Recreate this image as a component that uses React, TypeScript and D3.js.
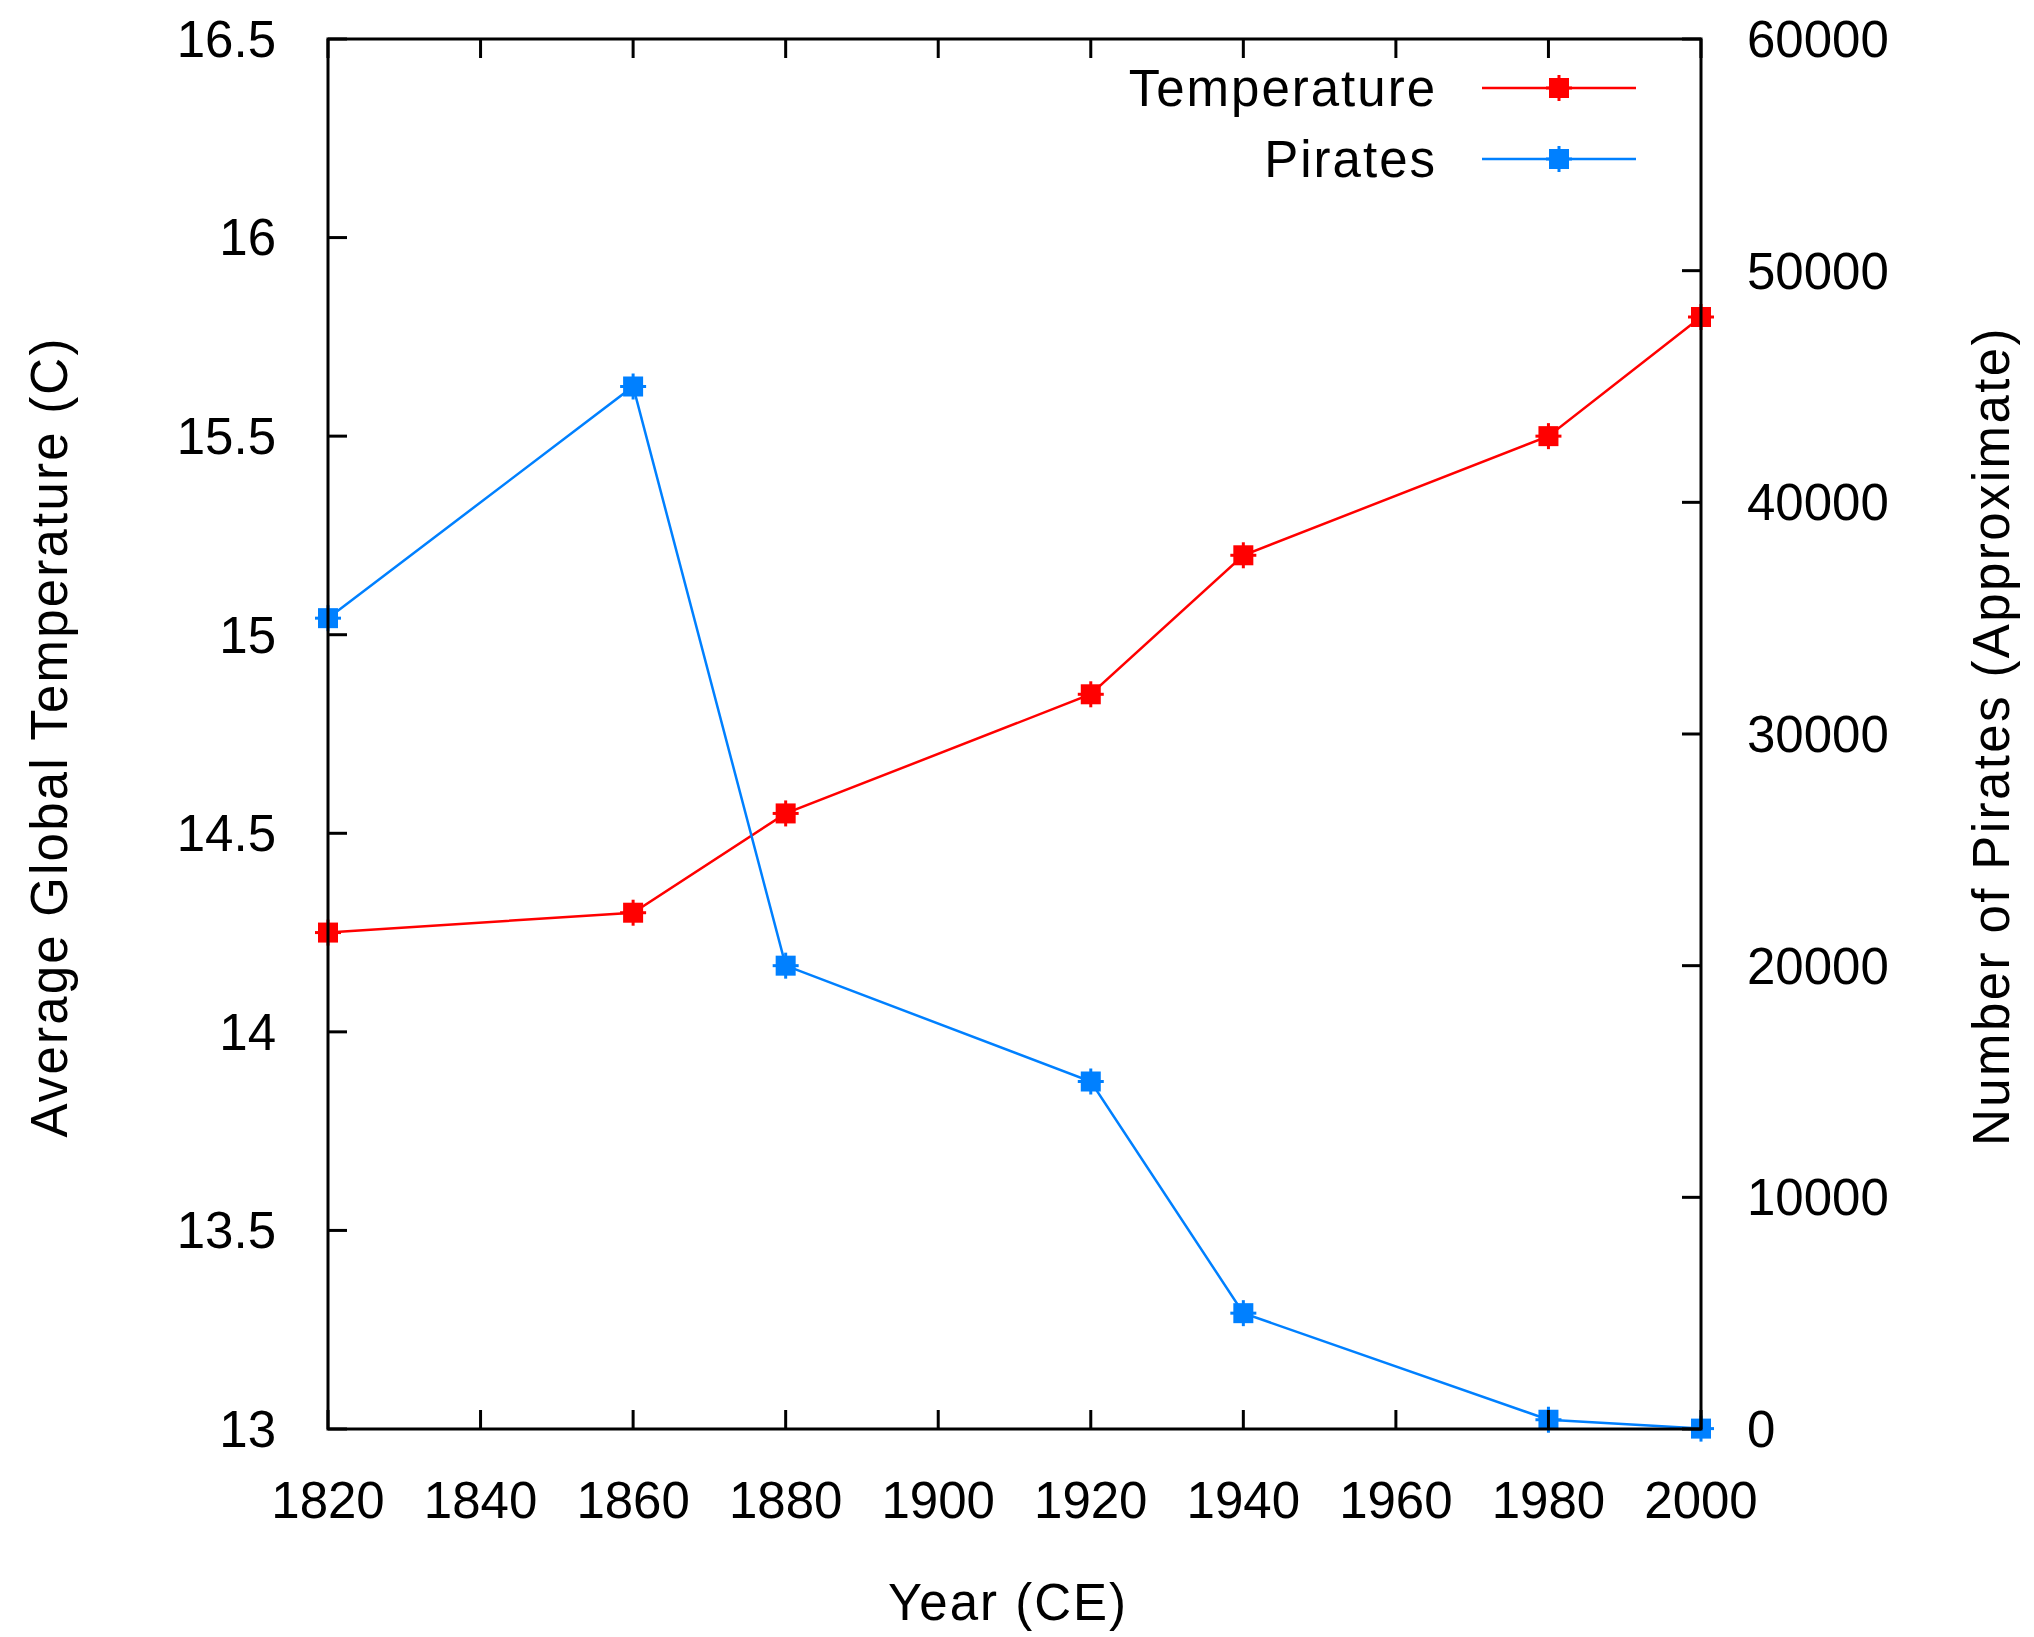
import * as d3 from 'd3';
import React, { useEffect } from 'react';

const years = [1820, 1860, 1880, 1920, 1940, 1980, 2000];
const temperature = [14.25, 14.3, 14.55, 14.85, 15.2, 15.5, 15.8];
const pirates = [35000, 45000, 20000, 15000, 5000, 400, 17];

const xTicks = [1820, 1840, 1860, 1880, 1900, 1920, 1940, 1960, 1980, 2000];
const yTicks = [13, 13.5, 14, 14.5, 15, 15.5, 16, 16.5];
const y2Ticks = [0, 10000, 20000, 30000, 40000, 50000, 60000];

const WIDTH = 2034;
const HEIGHT = 1637;
const FONT = '"Liberation Sans", Arial, Helvetica, sans-serif';
const RED = '#ff0000';
const BLUE = '#0080ff';

const margin = { left: 328, right: 333, top: 39, bottom: 208 };

const Marker: React.FC<{ x: number; y: number; color: string }> = ({ x, y, color }) => (
  <g>
    <rect x={x - 10} y={y - 10} width={20} height={20} fill={color} />
    <line x1={x - 13} x2={x + 13} y1={y} y2={y} stroke={color} strokeWidth={3} />
    <line x1={x} x2={x} y1={y - 13} y2={y + 13} stroke={color} strokeWidth={3} />
  </g>
);

const App: React.FC = () => {
  useEffect(() => {
    document.body.style.margin = '0';
  }, []);

  const x0 = margin.left;
  const x1 = WIDTH - margin.right;
  const y0 = margin.top;
  const y1 = HEIGHT - margin.bottom;

  const xScale = d3.scaleLinear().domain([1820, 2000]).range([x0, x1]);
  const yScale = d3.scaleLinear().domain([13, 16.5]).range([y1, y0]);
  const y2Scale = d3.scaleLinear().domain([0, 60000]).range([y1, y0]);

  const tempLine = d3.line<number>()
    .x((_, i) => xScale(years[i]))
    .y(d => yScale(d));
  const pirateLine = d3.line<number>()
    .x((_, i) => xScale(years[i]))
    .y(d => y2Scale(d));

  const tickLen = 19;
  const legendRows = [
    { label: 'Temperature', color: RED, y: 88 },
    { label: 'Pirates', color: BLUE, y: 159 },
  ];

  return (
    <svg width={WIDTH} height={HEIGHT} style={{ display: 'block', background: '#fff' }} fontFamily={FONT}>
      {/* data */}
      <path d={tempLine(temperature) || ''} fill="none" stroke={RED} strokeWidth={2.5} />
      <path d={pirateLine(pirates) || ''} fill="none" stroke={BLUE} strokeWidth={2.5} />
      {temperature.map((t, i) => (
        <Marker key={'t' + i} x={xScale(years[i])} y={yScale(t)} color={RED} />
      ))}
      {pirates.map((p, i) => (
        <Marker key={'p' + i} x={xScale(years[i])} y={y2Scale(p)} color={BLUE} />
      ))}

      {/* ticks */}
      {xTicks.map(t => (
        <g key={'xt' + t}>
          <line x1={xScale(t)} x2={xScale(t)} y1={y1} y2={y1 - tickLen} stroke="#000" strokeWidth={3} />
          <line x1={xScale(t)} x2={xScale(t)} y1={y0} y2={y0 + tickLen} stroke="#000" strokeWidth={3} />
          <text x={xScale(t)} y={1518} textAnchor="middle" fontSize={51} fill="#000">{t}</text>
        </g>
      ))}
      {yTicks.map(t => (
        <g key={'yt' + t}>
          <line x1={x0} x2={x0 + tickLen} y1={yScale(t)} y2={yScale(t)} stroke="#000" strokeWidth={3} />
          <text x={276} y={yScale(t)} dy="0.35em" textAnchor="end" fontSize={51} fill="#000">{t}</text>
        </g>
      ))}
      {y2Ticks.map(t => (
        <g key={'y2t' + t}>
          <line x1={x1} x2={x1 - tickLen} y1={y2Scale(t)} y2={y2Scale(t)} stroke="#000" strokeWidth={3} />
          <text x={1747} y={y2Scale(t)} dy="0.35em" textAnchor="start" fontSize={51} fill="#000">{t}</text>
        </g>
      ))}

      {/* frame */}
      <rect x={x0} y={y0} width={x1 - x0} height={y1 - y0} fill="none" stroke="#000" strokeWidth={3} />

      {/* legend */}
      {legendRows.map(r => (
        <g key={r.label}>
          <text x={1437} y={r.y} dy="0.35em" textAnchor="end" fontSize={51} letterSpacing={2} fill="#000">{r.label}</text>
          <line x1={1482} x2={1636} y1={r.y} y2={r.y} stroke={r.color} strokeWidth={2.5} />
          <Marker x={1559} y={r.y} color={r.color} />
        </g>
      ))}

      {/* axis titles */}
      <text x={1008} y={1620} textAnchor="middle" fontSize={51} letterSpacing={2} fill="#000">Year (CE)</text>
      <text transform="translate(67, 737) rotate(-90)" textAnchor="middle" fontSize={51} letterSpacing={2.2} fill="#000">
        Average Global Temperature (C)
      </text>
      <text transform="translate(2009, 736) rotate(-90)" textAnchor="middle" fontSize={51} letterSpacing={2.4} fill="#000">
        Number of Pirates (Approximate)
      </text>
    </svg>
  );
};

export default App;
